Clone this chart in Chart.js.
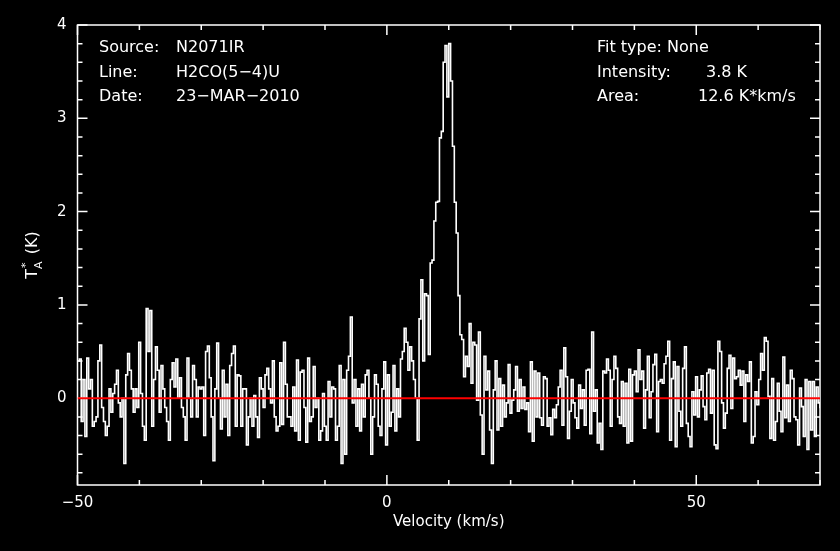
<!DOCTYPE html>
<html>
<head>
<meta charset="utf-8">
<script src="https://cdn.jsdelivr.net/npm/chart.js@4.4.1/dist/chart.umd.min.js"></script>
<style>
    html, body { margin: 0; padding: 0; background: #000; }
    #wrap { width: 840px; height: 551px; position: relative; }
</style>
</head>
<body>
<div id="wrap"><canvas id="spectrum"></canvas></div>
<script>
// Channel grid (km/s)
const vStart = -50;
const dv = 0.3;

// Antenna temperature per channel (K), left to right
const tA1 = [0.4,0.42,-0.25,0.2,-0.41,0.43,0.1,0.2,-0.3,-0.25,
    -0.2,0.4,0.57,-0.1,-0.25,-0.4,-0.3,0.1,-0.15,0.05,
    0.15,0.3,-0.05,-0.2,0.0,-0.7,0.25,0.48,0.3,0.1,
    -0.15,0.1,-0.1,0.6,0.05,-0.3,-0.45,0.96,0.5,0.94,
    -0.3,0.2,0.55,0.3,-0.15,0.35,0.1,-0.1,-0.25,-0.45,
    0.2,0.38,0.12,0.42,0.0,0.22,-0.1,-0.2,-0.45,0.43,
    0.0,-0.2,0.35,0.2,-0.2,0.12,0.1];
const tA2 = [0.12,-0.4,0.5,0.56,0.22,-0.2,-0.67,0.1,0.59,0.0,
    -0.33,0.3,-0.2,0.15,-0.4,0.35,0.48,0.56,-0.3,0.25,
    0.24,-0.3,0.1,0.1,-0.5,-0.2,0.0,-0.3,0.03,-0.2,
    -0.42,0.22,0.1,-0.1,0.25,0.32,0.1,-0.05,0.4,-0.2,
    -0.35,-0.3,0.38,-0.28,0.6,0.15,-0.2,-0.2,-0.3,0.12,
    -0.35,0.41,-0.45,0.28,0.3,-0.1,-0.47,0.43,-0.25,-0.2,
    0.34,-0.1,0.0,-0.45,-0.35,0.05];
const tA3 = [-0.3,-0.45,0.18,-0.2,0.12,0.1,-0.45,-0.3,
    0.35,-0.7,0.2,-0.6,0.3,0.45,0.87,-0.05,0.2,
    -0.3,0.1,-0.35,0.15,-0.2,0.25,0.3,0.0,-0.6,
    -0.2,0.25,0.15,-0.3,-0.4,0.1,0.39,
    -0.5,0.25,-0.3,-0.15,0.35,-0.35,0.1,-0.2,
    0.42,0.5,0.75,0.6,0.3,0.55,0.4,0.2,0.0,-0.45,
    0.85,1.27,0.4,1.12,1.1,0.47,1.45,1.48,1.9,2.1,
    2.11,2.79,2.86,3.6,3.78,3.23];
const tA4 = [3.8,3.4,2.7,2.1,1.77,1.1,0.68,0.63,0.23,0.45,
    0.34,0.8,0.16,0.6,0.57,-0.02,0.71,-0.18,-0.6,0.45,
    0.09,0.29,-0.34,-0.7,0.09,0.4,-0.34,0.21,-0.3,0.14,
    -0.2,-0.05,0.36,-0.16,-0.02,0.09,0.34,-0.14,0.2,-0.11,
    0.12,-0.12,-0.05,-0.36,0.39,-0.46,0.29,-0.2,0.27,-0.21,
    -0.29,0.23,0.21,-0.3,-0.21,-0.39,-0.12,-0.21,-0.07,0.12,
    0.3,-0.29,0.54,0.23,-0.43,-0.14,0.2];
const tA5 = [-0.05,-0.21,-0.32,0.14,-0.11,0.09,-0.29,0.3,
    0.31,-0.38,0.71,-0.14,0.09,-0.48,-0.27,-0.55,0.29,
    0.27,0.42,0.3,-0.3,0.2,0.45,0.32,-0.2,
    -0.27,0.18,-0.3,0.16,-0.48,0.31,-0.46,0.25,
    0.29,0.07,0.52,0.2,0.29,-0.32,0.09,0.45,-0.21,
    0.07,0.36,0.47,-0.36,0.18,0.2,0.16,0.37,0.45,
    0.61,-0.45,0.21,0.39,-0.52,0.34,-0.14,-0.3,0.32,
    0.55,-0.27,-0.41,-0.52,0.07,-0.18];
const tA6 = [0.23,-0.2,0.09,0.24,-0.09,-0.23,0.27,
    0.31,-0.16,0.3,-0.5,-0.54,0.61,0.5,-0.05,-0.32,
    -0.16,0.32,0.46,-0.11,0.43,0.21,0.23,0.3,
    0.14,0.29,-0.25,0.25,0.18,0.39,-0.48,-0.41,
    0.07,-0.07,0.2,0.48,0.3,0.65,0.61,0.02,-0.43,
    0.21,-0.45,-0.25,0.16,-0.14,-0.36,0.44,-0.21,0.14,
    -0.25,0.3,0.21,-0.2,-0.23,-0.5,0.11,-0.09,-0.41,
    0.2,-0.55,0.18,-0.34,0.18,-0.41,0.12,-0.05,-0.1];

// Axes
const xRange = [-50, 70];
const yRange = [-0.93, 4];
const xTicks = [-50, 0, 50];
const yTicks = [0, 1, 2, 3, 4];
const xMinorStep = 10;
const yMinorStep = 0.2;
const baseline = [0, 0];

// Header text
const leftLabels = ['Source:', 'Line:', 'Date:'];
const leftValues = ['N2071IR', 'H2CO(5\u22124)U', '23\u2212MAR\u22122010'];
const rightLabels = ['Fit type: None', 'Intensity:', 'Area:'];
const rightValues = ['', '3.8 K', '12.6 K*km/s'];

const tA = [...tA1, ...tA2, ...tA3, ...tA4, ...tA5, ...tA6];
const spectrum = tA.map((t, i) => ({ x: vStart + dv * (i + 0.5), y: t }));

const FONT = '"DejaVu Sans", sans-serif';

// Black page
const blackBg = {
    id: 'blackBg',
    beforeDraw(chart) {
        const ctx = chart.ctx;
        ctx.save();
        ctx.fillStyle = '#000';
        ctx.fillRect(0, 0, chart.width, chart.height);
        ctx.restore();
    }
};

// Box frame with inward ticks on all four sides (drawn under the data)
const frameTicks = {
    id: 'frameTicks',
    beforeDatasetsDraw(chart) {
        const { ctx, chartArea: a, scales: { x, y } } = chart;
        ctx.save();
        ctx.strokeStyle = '#fff';
        ctx.lineWidth = 1.5;
        ctx.strokeRect(a.left, a.top, a.right - a.left, a.bottom - a.top);
        ctx.beginPath();
        for (let k = Math.ceil(xRange[0] / xMinorStep); k * xMinorStep <= xRange[1]; k++) {
            const v = k * xMinorStep;
            const px = x.getPixelForValue(v);
            const len = xTicks.includes(v) ? 10 : 5;
            ctx.moveTo(px, a.bottom); ctx.lineTo(px, a.bottom - len);
            ctx.moveTo(px, a.top); ctx.lineTo(px, a.top + len);
        }
        for (let k = Math.ceil(yRange[0] / yMinorStep); k * yMinorStep <= yRange[1] + 1e-9; k++) {
            const py = y.getPixelForValue(k * yMinorStep);
            const len = k % 5 === 0 ? 10 : 5;
            ctx.moveTo(a.left, py); ctx.lineTo(a.left + len, py);
            ctx.moveTo(a.right, py); ctx.lineTo(a.right - len, py);
        }
        ctx.stroke();

        // axis titles
        ctx.fillStyle = '#fff';
        ctx.font = '15px ' + FONT;
        ctx.textAlign = 'center';
        ctx.textBaseline = 'middle';
        ctx.fillText('Velocity (km/s)', (a.left + a.right) / 2, 522);

        ctx.translate(33, (a.top + a.bottom) / 2);
        ctx.rotate(-Math.PI / 2);
        ctx.textAlign = 'left';
        ctx.font = '16px ' + FONT;
        const wT = ctx.measureText('T').width;
        ctx.font = '11px ' + FONT;
        const wA = ctx.measureText('A').width;
        ctx.font = '16px ' + FONT;
        const wK = ctx.measureText(' (K)').width;
        const total = wT + wA + 2 + wK;
        let cx = -total / 2;
        ctx.fillText('T', cx, 0);
        cx += wT;
        ctx.font = '11px ' + FONT;
        ctx.fillText('A', cx, 6);
        ctx.fillText('*', cx + 1, -7);
        cx += wA + 2;
        ctx.font = '16px ' + FONT;
        ctx.fillText(' (K)', cx, 0);
        ctx.restore();
    }
};

// Header annotations
const header = {
    id: 'header',
    afterDraw(chart) {
        const ctx = chart.ctx;
        ctx.save();
        ctx.fillStyle = '#fff';
        ctx.font = '16px ' + FONT;
        ctx.textBaseline = 'middle';
        ctx.textAlign = 'left';
        const rows = [48, 73, 97];
        leftLabels.forEach((t, i) => ctx.fillText(t, 99, rows[i]));
        leftValues.forEach((t, i) => ctx.fillText(t, 176, rows[i]));
        rightLabels.forEach((t, i) => ctx.fillText(t, 597, rows[i]));
        ctx.fillText(rightValues[1], 706, rows[1]);
        ctx.fillText(rightValues[2], 698, rows[2]);
        ctx.restore();
    }
};

new Chart(document.getElementById('spectrum'), {
    type: 'line',
    data: {
        datasets: [{
            label: 'baseline',
            data: xRange.map((v, i) => ({ x: v, y: baseline[i] })),
            borderColor: 'rgb(255, 0, 0)',
            borderWidth: 2,
            pointRadius: 0,
            order: 0
        }, {
            label: 'spectrum',
            data: spectrum,
            borderColor: '#fff',
            borderWidth: 1.6,
            stepped: 'middle',
            pointRadius: 0,
            order: 1
        }]
    },
    options: {
        responsive: true,
        maintainAspectRatio: false,
        animation: false,
        events: [],
        layout: { padding: { top: 25, right: 20, left: 0, bottom: 0 } },
        plugins: {
            legend: { display: false },
            tooltip: { enabled: false }
        },
        scales: {
            x: {
                type: 'linear',
                min: xRange[0],
                max: xRange[1],
                afterBuildTicks: s => { s.ticks = xTicks.map(v => ({ value: v })); },
                afterFit: s => { s.height = 66; },
                grid: { display: false, drawTicks: false },
                border: { display: false },
                ticks: {
                    color: '#fff',
                    padding: 9,
                    maxRotation: 0,
                    autoSkip: false,
                    font: { family: FONT, size: 15 },
                    callback: v => (v < 0 ? '\u2212' + Math.abs(v) : String(v))
                }
            },
            y: {
                type: 'linear',
                min: yRange[0],
                max: yRange[1],
                afterBuildTicks: s => { s.ticks = yTicks.map(v => ({ value: v })); },
                afterFit: s => { s.width = 77.5; },
                grid: { display: false, drawTicks: false },
                border: { display: false },
                ticks: {
                    color: '#fff',
                    padding: 11,
                    autoSkip: false,
                    font: { family: FONT, size: 15 },
                    callback: v => String(v)
                }
            }
        }
    },
    plugins: [blackBg, frameTicks, header]
});
</script>
</body>
</html>
